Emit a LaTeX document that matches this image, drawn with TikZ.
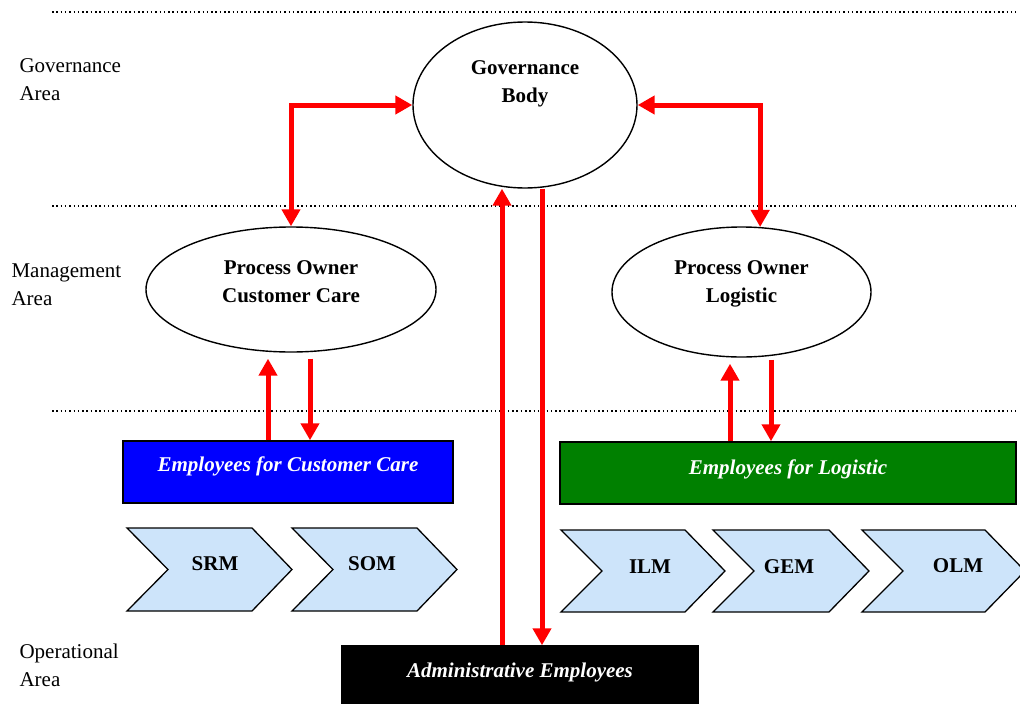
\documentclass[tikz,border=0pt]{standalone}
\usepackage{fontspec}
\setmainfont{Liberation Serif}
\usetikzlibrary{arrows.meta,shapes.geometric}

\definecolor{chevblue}{RGB}{205,228,250}
\definecolor{empgreen}{RGB}{0,128,0}

\begin{document}
\begin{tikzpicture}[x=1pt, y=-1pt,
  >={Triangle[length=17pt,width=18pt]},
  txt/.style={font=\fontsize{21}{28}\selectfont, align=center},
  area/.style={txt, align=left, anchor=west},
  oval/.style={draw, ellipse, line width=1.4pt, inner sep=0pt},
  empbox/.style={draw, line width=1.5pt, inner sep=0pt},
  redarr/.style={draw=red, line width=5pt, red},
  dotline/.style={line width=1.3pt, dash pattern=on 1.5pt off 2.8pt},
  chev/.style={draw, line width=1.3pt, fill=chevblue, line join=miter}]
  \useasboundingbox (0,0) rectangle (1020,704);

  % area separators
  \draw[dotline] (52,12) -- (1016,12);
  \draw[dotline] (52,206) -- (1016,206);
  \draw[dotline] (52,411) -- (1016,411);

  \node[area] (garea) at (16,80) {Governance\\Area};
  \node[area] (marea) at (8,285) {Management\\Area};
  \node[area] (oarea) at (16,665) {Operational\\Area};

  % ellipses
  \node[oval, minimum width=224pt, minimum height=166pt,
        label={[txt, font=\fontsize{21}{28}\selectfont\bfseries, yshift=21pt]center:Governance\\Body}]
        (gov) at (525,105) {};
  \node[oval, minimum width=290pt, minimum height=125pt,
        label={[txt, font=\fontsize{21}{28}\selectfont\bfseries, yshift=8pt]center:Process Owner\\Customer Care}]
        (pocc) at (291,289.5) {};
  \node[oval, minimum width=259pt, minimum height=130pt,
        label={[txt, font=\fontsize{21}{28}\selectfont\bfseries, yshift=8pt]center:Process Owner\\Logistic}]
        (polog) at (741.5,292) {};

  % employee boxes
  \node[empbox, fill=blue, minimum width=330pt, minimum height=62pt,
        label={[txt, font=\fontsize{21}{28}\selectfont\bfseries\itshape, text=white, yshift=6pt]center:Employees for Customer Care}]
        (empcc) at (288,472) {};
  \node[empbox, fill=empgreen, minimum width=456pt, minimum height=62pt,
        label={[txt, font=\fontsize{21}{28}\selectfont\bfseries\itshape, text=white, yshift=4pt]center:Employees for Logistic}]
        (emplog) at (788,473) {};
  \node[empbox, fill=black, minimum width=356pt, minimum height=62pt,
        label={[txt, font=\fontsize{21}{28}\selectfont\bfseries\itshape, text=white, yshift=5pt]center:Administrative Employees}]
        (admin) at (520,677) {};

  % process chevrons
  \foreach \x/\w/\t/\y in {127/165/528/611, 292/165/528/611,
      561/164/530/612, 713/156/530/612, 862/163/530/612} {
    \draw[chev] (\x,\t) -- (\x+\w-40,\t) -- (\x+\w,{(\t+\y)/2}) -- (\x+\w-40,\y)
      -- (\x,\y) -- (\x+41,{(\t+\y)/2}) -- cycle;
  }
  \node[txt, font=\fontsize{21}{28}\selectfont\bfseries] (srm) at (215,564) {SRM};
  \node[txt, font=\fontsize{21}{28}\selectfont\bfseries] (som) at (372,564) {SOM};
  \node[txt, font=\fontsize{21}{28}\selectfont\bfseries] (ilm) at (650,567) {ILM};
  \node[txt, font=\fontsize{21}{28}\selectfont\bfseries] (gem) at (789,567) {GEM};
  \node[txt, font=\fontsize{21}{28}\selectfont\bfseries] (olm) at (958,566) {OLM};

  % governance links
  \draw[redarr, <->] (gov.west) -| (pocc.north);
  \draw[redarr, <->] (gov.east) -| (polog.74);
  \draw[redarr, ->] ([xshift=-18pt]admin.north) -- ([xshift=-18pt]admin.north |- gov.south);
  \draw[redarr, ->] ([xshift=17pt]gov.south) -- ([xshift=17pt]gov.south |- admin.north);

  % management links
  \draw[redarr, ->, shorten >=6pt] ([xshift=-20pt]empcc.north) -- ([xshift=-20pt]empcc.north |- pocc.south);
  \draw[redarr, ->, shorten <=6pt] ([xshift=22pt]empcc.north |- pocc.south) -- ([xshift=22pt]empcc.north);
  \draw[redarr, ->, shorten >=6pt] ([xshift=-58pt]emplog.north) -- ([xshift=-58pt]emplog.north |- polog.south);
  \draw[redarr, ->, shorten <=2pt] ([xshift=-17pt]emplog.north |- polog.south) -- ([xshift=-17pt]emplog.north);
\end{tikzpicture}
\end{document}
